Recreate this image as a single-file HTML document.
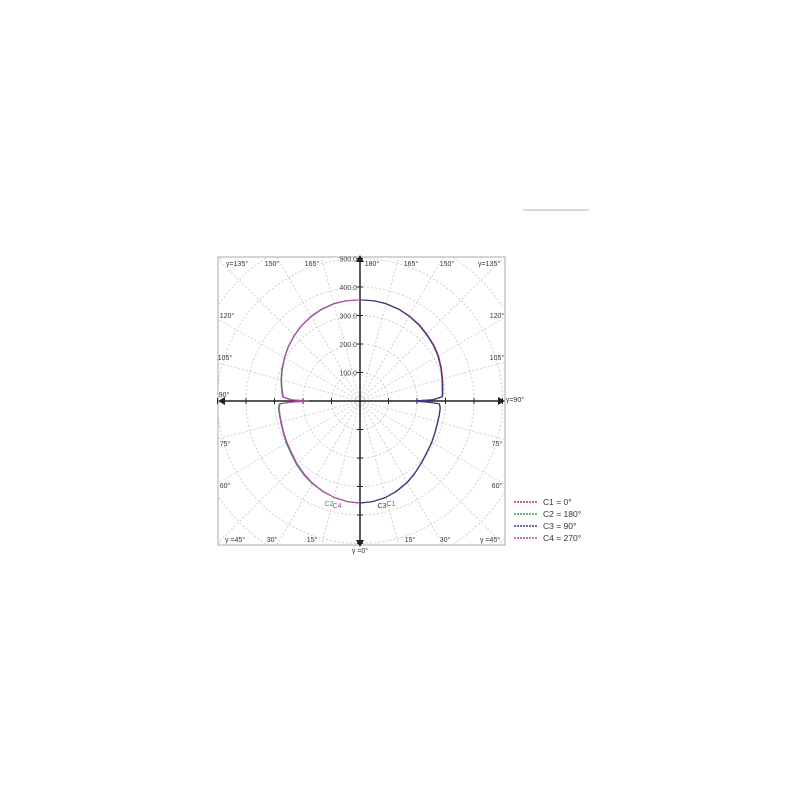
<!DOCTYPE html>
<html><head><meta charset="utf-8"><style>
body{margin:0;background:#fff;width:800px;height:800px;overflow:hidden}
svg{display:block}
text{font-family:"Liberation Sans",sans-serif}
</style></head><body>
<svg id="chart" width="800" height="800">
<rect x="523" y="209" width="66" height="2" fill="#d8d8d8"/>
<rect x="218" y="257" width="287" height="288" fill="#fff" stroke="#aaa" stroke-width="1"/>
<defs><clipPath id="clip"><rect x="218" y="257" width="287" height="288"/></clipPath></defs>
<g id="grid" clip-path="url(#clip)"></g>
<g id="axes"></g>
<g id="series" clip-path="url(#clip)"></g>
<g id="labels"></g>
<g id="legend"></g>
</svg>
<script>
const gammaUpper = [90, 91, 93, 95, 100, 105, 112, 120, 127, 135, 142, 150, 157, 165, 172, 180];
const gammaLower = [0, 7, 15, 22, 30, 37, 45, 52, 60, 67, 75, 80, 85, 88, 89, 90];
const c1Upper = [190, 260, 290, 292, 295, 300, 308, 318, 325, 332, 339, 345, 350, 354, 355, 355];
const c1Lower = [358, 356, 350, 341, 330, 318, 305, 296, 290, 285, 282, 282, 282, 278, 240, 190];
const c3Upper = [188, 255, 288, 290, 293, 298, 306, 316, 323, 330, 337, 344, 349, 353, 355, 355];
const c3Lower = [358, 356, 350, 342, 331, 319, 306, 297, 291, 286, 283, 283, 283, 279, 238, 188];
const c2Upper = [182, 240, 270, 272, 278, 285, 294, 305, 315, 325, 334, 342, 348, 353, 355, 355];
const c2Lower = [358, 356, 350, 344, 335, 326, 315, 305, 298, 292, 288, 287, 287, 283, 245, 182];
const c4Upper = [184, 242, 272, 274, 280, 287, 296, 306, 316, 326, 335, 343, 349, 354, 355, 355];
const c4Lower = [358, 356, 350, 343, 333, 323, 312, 302, 295, 290, 286, 285, 285, 281, 243, 184];
const radialTicks = [100, 200, 300, 400, 500];
const radialLabels = ["100.0", "200.0", "300.0", "400.0", "500.0"];
const legendNames = ["C1 = 0°", "C2 = 180°", "C3 = 90°", "C4 = 270°"];

const NS = "http://www.w3.org/2000/svg";
const cx = 360, cy = 401, k = 0.285;
function pt(g, r, side){ const a = g*Math.PI/180; return [cx + side*r*k*Math.sin(a), cy + r*k*Math.cos(a)]; }
function mk(tag, attrs, parent){ const e=document.createElementNS(NS,tag); for(const a in attrs) e.setAttribute(a,attrs[a]); parent.appendChild(e); return e; }

const grid = document.getElementById('grid');
for (let v = 100; v <= 700; v += 100) {
  const c = mk('circle',{cx:cx,cy:cy,r:v*k,fill:'none',stroke:'#d0d0d0','stroke-dasharray':'2,2','stroke-width':1},grid);
  
  
}
for (let g = 0; g < 360; g += 15) {
  const p = pt(g, 700, 1);
  const l = mk('line',{x1:cx,y1:cy,x2:p[0],y2:p[1],stroke:'#d0d0d0','stroke-dasharray':'2,2','stroke-width':1},grid);
  
  
}
const axes = document.getElementById('axes');
const hx = mk('line',{x1:222,y1:cy,x2:500,y2:cy,stroke:'#222','stroke-width':1.5},axes);


const vx = mk('line',{x1:cx,y1:259,x2:cx,y2:543,stroke:'#222','stroke-width':1.5},axes);


mk('path',{d:'M218 401 l7 -4 v8 z M505 401 l-7 -4 v8 z M360 255 l-4 7 h8 z M360 547 l-4 -7 h8 z',fill:'#222'},axes);
for (const v of radialTicks) {
  for (const s of [-1,1]) {
    mk('line',{x1:cx+s*v*k,y1:cy-3,x2:cx+s*v*k,y2:cy+3,stroke:'#222'},axes);
    mk('line',{x1:cx-3,y1:cy+s*v*k,x2:cx+3,y2:cy+s*v*k,stroke:'#222'},axes);
  }
}
const labels = document.getElementById('labels');
radialTicks.forEach((v,i)=>{
  const t = mk('text',{x:cx-3,y:cy-v*k+3,'font-size':7,'text-anchor':'end',fill:'#444'},labels);
  t.textContent = radialLabels[i];
  
  
});
const edge = [["γ=135°",237,266],["150°",272,266],["165°",312,266],["180°",372,266],["165°",411,266],["150°",447,266],["γ=135°",489,266],
 ["120°",227,318],["120°",497,318],["105°",225,360],["105°",497,360],["90°",224,397],["γ=90°",515,402],
 ["75°",225,446],["75°",497,446],["60°",225,488],["60°",497,488],
 ["γ =45°",235,542],["30°",272,542],["15°",312,542],["15°",410,542],["30°",445,542],["γ =45°",490,542],["γ =0°",360,553]];
for (const e of edge) {
  const t = mk('text',{x:e[1],y:e[2],'font-size':7,'text-anchor':'middle',fill:'#333'},labels);
  t.textContent = e[0];
  
  
}
[["C2",329,506,'#2aa050'],["C4",337,508,'#b0409a'],["C3",382,508,'#333'],["C1",391,506,'#b0409a']].forEach(e=>{
  const t = mk('text',{x:e[1],y:e[2],'font-size':7,'text-anchor':'middle',fill:e[3]},labels);
  t.textContent = e[0];
  
  
});

const series = document.getElementById('series');
const defs = [[c1Upper,c1Lower,1,'#c0304a','c1-curve'],[c3Upper,c3Lower,1,'#3a3a8a','c3-curve'],
              [c2Upper,c2Lower,-1,'#30a060','c2-curve'],[c4Upper,c4Lower,-1,'#c040b0','c4-curve']];
for (const d of defs) {
  const pts = [];
  gammaLower.forEach((g,i)=>pts.push(pt(g,d[1][i],d[2])));
  gammaUpper.forEach((g,i)=>pts.push(pt(g,d[0][i],d[2])));
  const p = mk('polyline',{points:pts.map(q=>q[0].toFixed(1)+','+q[1].toFixed(1)).join(' '),fill:'none',stroke:d[3],'stroke-width':1.2,'stroke-linejoin':'round'},series);
  
  
}
const legend = document.getElementById('legend');
const lc = ['#c0304a','#30a060','#3a3a8a','#c040b0'];
legendNames.forEach((n,i)=>{
  const y = 502 + i*12;
  mk('line',{x1:514,y1:y,x2:538,y2:y,stroke:lc[i],'stroke-width':1.5,'stroke-dasharray':'2,1'},legend);
  const t = mk('text',{x:543,y:y+3,'font-size':8.5,fill:'#333'},legend);
  t.textContent = n;
  
  
});
</script>
</body></html>
